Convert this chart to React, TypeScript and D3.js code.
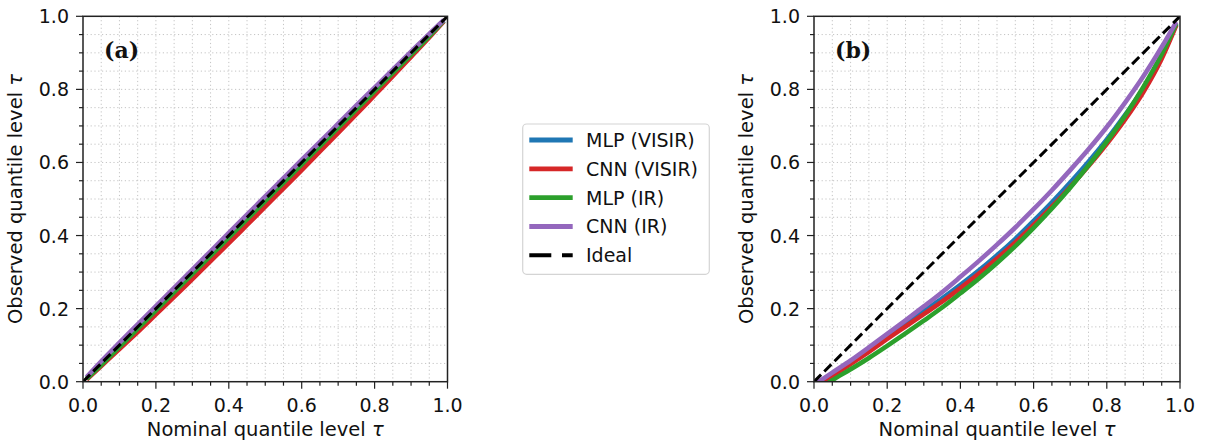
import React from 'react';
import * as d3 from 'd3';

// ---------- data ----------
const TAU = [0.01, 0.05, 0.1, 0.15, 0.2, 0.25, 0.3, 0.35, 0.4, 0.45, 0.5, 0.55, 0.6, 0.65, 0.7, 0.75, 0.8, 0.85, 0.9, 0.95, 0.99];

const SERIES_NAMES = ['MLP (VISIR)', 'CNN (VISIR)', 'MLP (IR)', 'CNN (IR)'];
const SERIES_COLORS = ['#1f77b4', '#d62728', '#2ca02c', '#9467bd'];

// panel (a)
const A_MLP_VISIR = [0.008, 0.045, 0.094, 0.143, 0.193, 0.243, 0.293, 0.343, 0.393, 0.443, 0.493, 0.543, 0.593, 0.643, 0.693, 0.743, 0.793, 0.844, 0.894, 0.945, 0.988];
const A_CNN_VISIR = [0.006, 0.043, 0.089, 0.136, 0.184, 0.232, 0.281, 0.33, 0.379, 0.429, 0.479, 0.529, 0.579, 0.63, 0.681, 0.732, 0.784, 0.836, 0.889, 0.942, 0.986];
const A_MLP_IR = [0.008, 0.046, 0.095, 0.145, 0.195, 0.245, 0.295, 0.345, 0.395, 0.445, 0.495, 0.545, 0.595, 0.645, 0.695, 0.745, 0.795, 0.845, 0.895, 0.946, 0.988];
const A_CNN_IR = [0.013, 0.056, 0.107, 0.157, 0.207, 0.257, 0.307, 0.357, 0.407, 0.457, 0.507, 0.557, 0.607, 0.656, 0.706, 0.756, 0.805, 0.854, 0.903, 0.952, 0.99];

// panel (b)
const B_MLP_VISIR = [-0.006, 0.019, 0.053, 0.087, 0.123, 0.158, 0.193, 0.228, 0.265, 0.304, 0.346, 0.391, 0.44, 0.491, 0.545, 0.602, 0.663, 0.73, 0.803, 0.89, 0.979];
const B_CNN_VISIR = [-0.01, 0.015, 0.048, 0.082, 0.117, 0.151, 0.185, 0.219, 0.256, 0.295, 0.337, 0.381, 0.429, 0.479, 0.533, 0.59, 0.651, 0.718, 0.793, 0.884, 0.976];
const B_MLP_IR = [-0.022, 0.004, 0.034, 0.065, 0.098, 0.132, 0.167, 0.203, 0.242, 0.282, 0.325, 0.371, 0.421, 0.474, 0.531, 0.592, 0.657, 0.728, 0.807, 0.896, 0.98];
const B_CNN_IR = [-0.002, 0.025, 0.058, 0.094, 0.131, 0.168, 0.206, 0.245, 0.287, 0.33, 0.375, 0.422, 0.472, 0.524, 0.579, 0.636, 0.697, 0.764, 0.836, 0.916, 0.985];

const IDEAL_X = [0, 1];
const IDEAL_Y = [0, 1];

const MAJOR_TICKS = [0, 0.2, 0.4, 0.6, 0.8, 1.0];
const TICK_LABELS = ['0.0', '0.2', '0.4', '0.6', '0.8', '1.0'];
const MINOR_TICKS = [0.05, 0.1, 0.15, 0.25, 0.3, 0.35, 0.45, 0.5, 0.55, 0.65, 0.7, 0.75, 0.85, 0.9, 0.95];
const GRID_LINES = [0.05, 0.1, 0.15, 0.2, 0.25, 0.3, 0.35, 0.4, 0.45, 0.5, 0.55, 0.6, 0.65, 0.7, 0.75, 0.8, 0.85, 0.9, 0.95];

const X_LABEL = 'Nominal quantile level ';
const Y_LABEL = 'Observed quantile level ';
const LEGEND_IDEAL = 'Ideal';

const FONT = '"DejaVu Sans", sans-serif';

// ---------- layout ----------
const W = 1207;
const H = 441;
const TOP = 16.3;
const BOTTOM = 381.7;
const LW = 4.6;

type PanelProps = {
  id: string;
  left: number;
  right: number;
  label: string;
  series: number[][];
};

function Panel({ id, left, right, label, series }: PanelProps) {
  const x = d3.scaleLinear().domain([0, 1]).range([left, right]);
  const y = d3.scaleLinear().domain([0, 1]).range([BOTTOM, TOP]);
  const line = d3
    .line<number>()
    .x((_, i) => x(TAU[i]))
    .y((d) => y(d))
    .curve(d3.curveMonotoneX);
  const idealLine = d3
    .line<number>()
    .x((_, i) => x(IDEAL_X[i]))
    .y((d) => y(d));

  const clipId = `clip-${id}`;
  const midX = (left + right) / 2;
  const midY = (TOP + BOTTOM) / 2;

  return (
    <g>
      <defs>
        <clipPath id={clipId}>
          <rect x={left} y={TOP} width={right - left} height={BOTTOM - TOP} />
        </clipPath>
      </defs>
      {/* grid */}
      <g stroke="#c4c4c4" strokeWidth={1} strokeDasharray="1.2,2.6">
        {GRID_LINES.map((g) => (
          <line key={`gx${g}`} x1={x(g)} x2={x(g)} y1={TOP} y2={BOTTOM} />
        ))}
        {GRID_LINES.map((g) => (
          <line key={`gy${g}`} x1={left} x2={right} y1={y(g)} y2={y(g)} />
        ))}
      </g>
      {/* curves */}
      <g clipPath={`url(#${clipId})`} fill="none">
        {series.map((s, i) => (
          <path key={i} d={line(s) || ''} stroke={SERIES_COLORS[i]} strokeWidth={LW} />
        ))}
        <path d={idealLine(IDEAL_Y) || ''} stroke="#000" strokeWidth={3} strokeDasharray="10,4.5" />
      </g>
      {/* ticks */}
      <g stroke="#222" strokeWidth={1.2}>
        {MAJOR_TICKS.map((t) => (
          <line key={`mx${t}`} x1={x(t)} x2={x(t)} y1={BOTTOM} y2={BOTTOM + 7} />
        ))}
        {MAJOR_TICKS.map((t) => (
          <line key={`my${t}`} x1={left - 7} x2={left} y1={y(t)} y2={y(t)} />
        ))}
        {MINOR_TICKS.map((t) => (
          <line key={`nx${t}`} x1={x(t)} x2={x(t)} y1={BOTTOM} y2={BOTTOM + 4} />
        ))}
        {MINOR_TICKS.map((t) => (
          <line key={`ny${t}`} x1={left - 4} x2={left} y1={y(t)} y2={y(t)} />
        ))}
      </g>
      {/* frame */}
      <rect x={left} y={TOP} width={right - left} height={BOTTOM - TOP} fill="none" stroke="#222" strokeWidth={1.5} />
      {/* tick labels */}
      <g fontFamily={FONT} fontSize={19} fill="#111">
        {MAJOR_TICKS.map((t, i) => (
          <text key={`lx${t}`} x={x(t)} y={412} textAnchor="middle">
            {TICK_LABELS[i]}
          </text>
        ))}
        {MAJOR_TICKS.map((t, i) => (
          <text key={`ly${t}`} x={left - 14} y={y(t) + 7} textAnchor="end">
            {TICK_LABELS[i]}
          </text>
        ))}
      </g>
      {/* axis labels */}
      <text x={midX} y={436} textAnchor="middle" fontFamily={FONT} fontSize={19.5} fill="#111">
        {X_LABEL}
        <tspan fontStyle="italic">τ</tspan>
      </text>
      <text
        transform={`translate(${left - 61},${midY}) rotate(-90)`}
        textAnchor="middle"
        fontFamily={FONT}
        fontSize={19.5}
        fill="#111"
      >
        {Y_LABEL}
        <tspan fontStyle="italic">τ</tspan>
      </text>
      {/* panel label */}
      <text x={left + 21} y={58} fontFamily='"DejaVu Serif", serif' fontWeight="bold" fontSize={22} fill="#111">
        {label}
      </text>
    </g>
  );
}

function Legend() {
  const x0 = 522.7;
  const y0 = 124;
  const rowY = d3.scaleLinear().domain([0, 4]).range([140, 255.3]);
  const names = [...SERIES_NAMES, LEGEND_IDEAL];
  return (
    <g>
      <rect x={x0} y={y0} width={186.6} height={150.3} rx={4} fill="#fff" stroke="#d4d4d4" strokeWidth={1.2} />
      {names.map((n, i) => (
        <g key={n}>
          {i < 4 ? (
            <line x1={529.3} x2={572.7} y1={rowY(i)} y2={rowY(i)} stroke={SERIES_COLORS[i]} strokeWidth={4.8} />
          ) : (
            <line x1={529.3} x2={572.7} y1={rowY(i)} y2={rowY(i)} stroke="#000" strokeWidth={4} strokeDasharray="22,10.7" />
          )}
          <text x={586} y={rowY(i) + 7} fontFamily={FONT} fontSize={19} fill="#111">
            {n}
          </text>
        </g>
      ))}
    </g>
  );
}

export default function App() {
  return (
    <svg width={W} height={H} style={{ position: 'absolute', left: 0, top: 0, background: '#fff' }}>
      <rect x={0} y={0} width={W} height={H} fill="#fff" />
      <Panel id="a" left={83} right={447.5} label="(a)" series={[A_MLP_VISIR, A_CNN_VISIR, A_MLP_IR, A_CNN_IR]} />
      <Panel id="b" left={814} right={1180} label="(b)" series={[B_MLP_VISIR, B_CNN_VISIR, B_MLP_IR, B_CNN_IR]} />
      <Legend />
    </svg>
  );
}
